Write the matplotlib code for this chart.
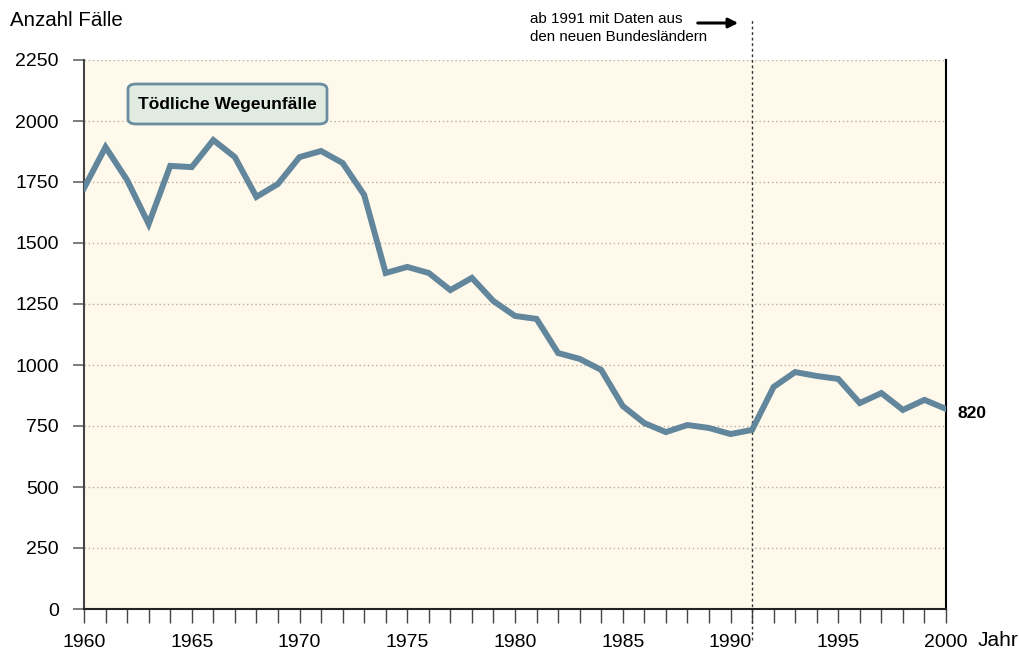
import matplotlib
matplotlib.use("Agg")
import matplotlib.pyplot as plt
from matplotlib.patches import FancyBboxPatch

years = list(range(1960, 2001))
values = [1725, 1893, 1758, 1578, 1816, 1811, 1922, 1852, 1689, 1742,
          1852, 1877, 1828, 1697, 1377, 1402, 1377, 1307, 1357, 1262,
          1201, 1189, 1049, 1025, 980, 832, 762, 725, 754, 742,
          717, 734, 910, 971, 955, 943, 844, 885, 816, 857, 820]
yticks = list(range(0, 2251, 250))
xticks = list(range(1960, 2001, 5))

plt.rcParams['font.family'] = ['Liberation Sans', 'DejaVu Sans']

fig = plt.figure(figsize=(10.2, 6.51), dpi=100)
ax = fig.add_axes([84/1020, 42/651, 862/1020, 549/651])
ax.set_facecolor('#fff9ec')
ax.set_xlim(1960, 2000)
ax.set_ylim(0, 2250)

ax.plot(years, values, color='#62879c', lw=4.3, solid_joinstyle='miter', zorder=3)

ax.set_yticks(yticks)
ax.set_yticklabels([str(v) for v in yticks], fontsize=14)
ax.set_xticks(years, minor=True)
ax.set_xticks(xticks)
ax.set_xticklabels([str(v) for v in xticks], fontsize=14)
ax.tick_params(axis='y', length=8, width=1.2, color='#666666', pad=10)
ax.tick_params(axis='x', which='both', length=10, width=1, color='#444444', pad=8, direction='out')
ax.tick_params(axis='x', which='minor', labelbottom=False)

for y in yticks:
    ax.axhline(y, color='#b8b0a0', lw=1, ls=(0, (1, 2)), zorder=1)

ax.spines['top'].set_visible(False)
ax.spines['left'].set_color('#444444')
ax.spines['left'].set_linewidth(1.5)
ax.spines['bottom'].set_color('#222222')
ax.spines['bottom'].set_linewidth(1.5)
ax.spines['right'].set_color('#000000')
ax.spines['right'].set_linewidth(1.5)

ax.axvline(1991, ymin=-0.056, ymax=1.073, color='#333333', lw=1, ls=(0, (2, 2)),
           clip_on=False, zorder=2)

fig.text(10/1020, 1 - 21/651, 'Anzahl Fälle', fontsize=14.8, va='center', ha='left')
fig.text(978/1020, 1 - 640/651, 'Jahr', fontsize=15, va='center', ha='left')
ax.text(2000.55, 800, '820', fontsize=12.5, fontweight='bold', va='center', ha='left')

fig.text(530/1020, 1 - 28/651, 'ab 1991 mit Daten aus\nden neuen Bundesländern',
         fontsize=10.9, va='center', ha='left', linespacing=1.45)
ax.annotate('', xy=(741/1020, 1 - 23/651), xytext=(695/1020, 1 - 23/651),
            xycoords='figure fraction', textcoords='figure fraction',
            arrowprops=dict(arrowstyle='-|>', color='black', lw=2.2, mutation_scale=14))

box = FancyBboxPatch((128/1020, 1 - 124/651), 199/1020, 40/651,
                     boxstyle='round,pad=0,rounding_size=0.008',
                     transform=fig.transFigure, facecolor='#e1ebe1',
                     edgecolor='#6a8ea0', lw=2, zorder=5)
fig.patches.append(box)
fig.text(227/1020, 1 - 104/651, 'Tödliche Wegeunfälle', fontsize=12.5,
         fontweight='bold', ha='center', va='center', zorder=6)

fig.savefig('out.png', dpi=100)
